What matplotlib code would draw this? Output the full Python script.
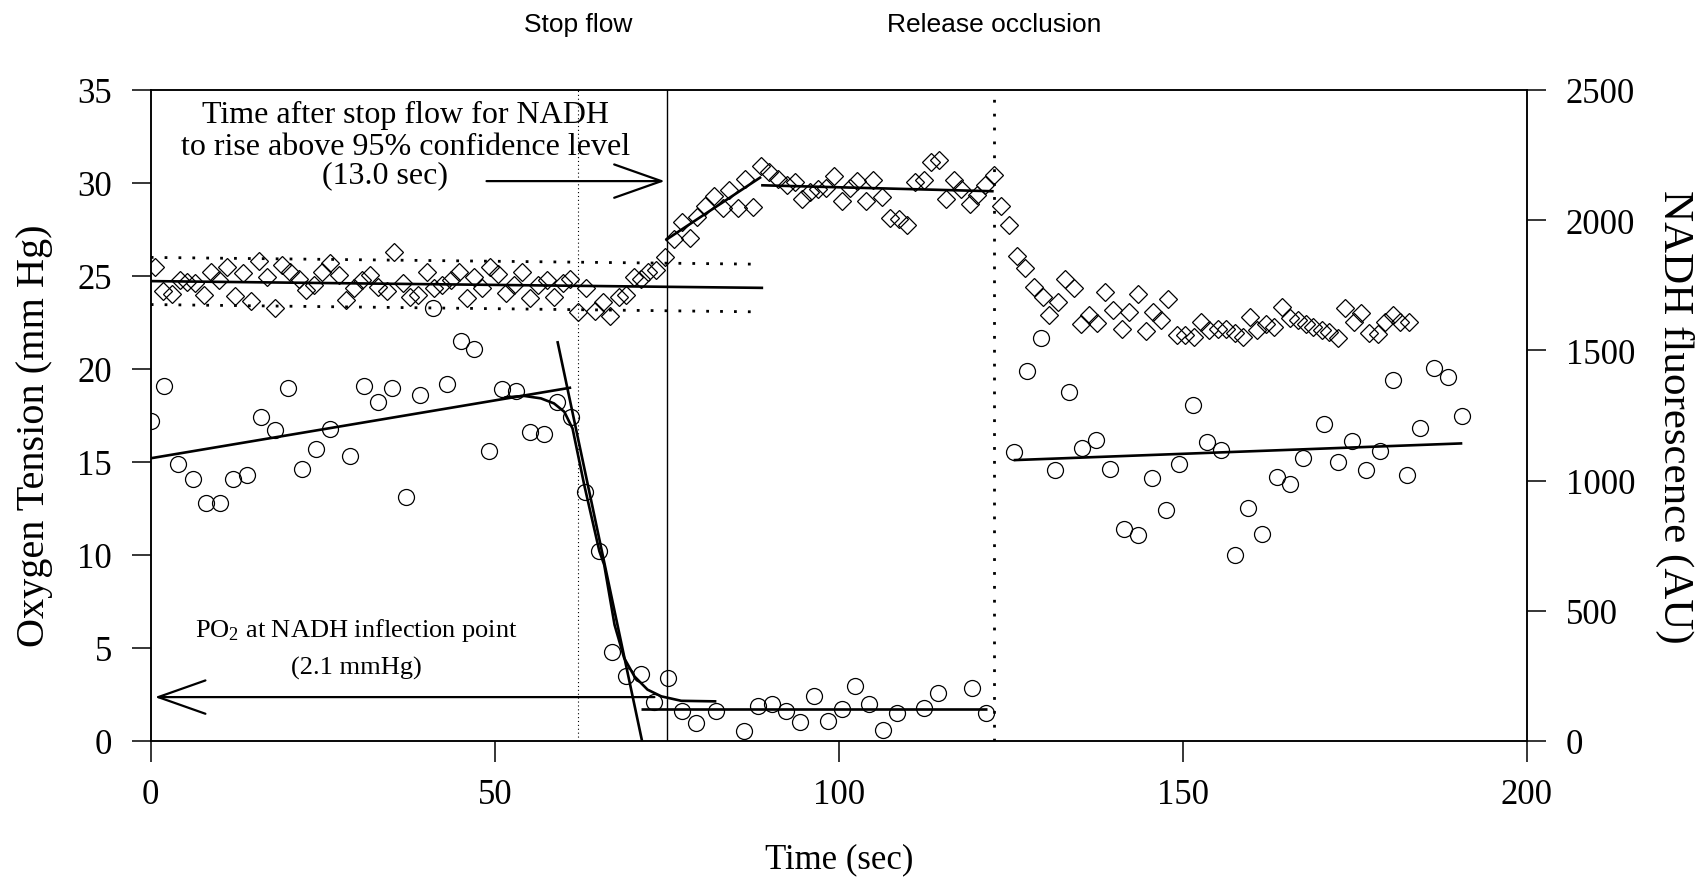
import matplotlib.pyplot as plt
import matplotlib.transforms as mtransforms

# ----------------------------
# Data
# ----------------------------
# oxygen tension (circles), mm Hg
o2_time = [0.0, 2.0, 4.0, 6.1, 8.1, 10.1, 12.0, 14.0, 16.0, 18.0, 20.0, 22.0, 24.0, 26.0,
           29.0, 31.0, 33.0, 35.0, 37.1, 39.1, 41.0, 43.1, 45.1, 47.0, 49.1, 51.1, 53.1,
           55.1, 57.1, 59.1, 61.1, 63.1, 65.2, 67.1, 69.1, 71.2, 73.2, 75.2, 77.2, 79.2,
           82.2, 86.2, 88.3, 90.3, 92.3, 94.3, 96.4, 98.4, 100.4, 102.3, 104.4, 106.4,
           108.4, 112.4, 114.4, 119.4, 121.4,
           125.4, 127.3, 129.4, 131.4, 133.4, 135.4, 137.4, 139.4, 141.5, 143.5, 145.5,
           147.5, 149.4, 151.4, 153.5, 155.5, 157.5, 159.5, 161.5, 163.6, 165.6, 167.5,
           170.5, 172.5, 174.6, 176.6, 178.6, 180.5, 182.5, 184.5, 186.5, 188.5, 190.5]
o2_vals = [17.2, 19.1, 14.9, 14.1, 12.8, 12.8, 14.1, 14.3, 17.4, 16.7, 19.0, 14.6, 15.7, 16.8,
           15.3, 19.1, 18.2, 19.0, 13.1, 18.6, 23.3, 19.2, 21.5, 21.1, 15.6, 18.9, 18.8,
           16.6, 16.5, 18.2, 17.4, 13.4, 10.2, 4.8, 3.5, 3.6, 2.1, 3.4, 1.6, 0.95,
           1.6, 0.55, 1.9, 2.0, 1.6, 1.0, 2.4, 1.1, 1.7, 2.95, 2.0, 0.57,
           1.5, 1.8, 2.6, 2.85, 1.5,
           15.56, 19.89, 21.68, 14.57, 18.76, 15.74, 16.17, 14.63, 11.39, 11.08, 14.12,
           12.44, 14.88, 18.06, 16.09, 15.65, 10.0, 12.55, 11.15, 14.18, 13.8, 15.23,
           17.02, 15.02, 16.13, 14.57, 15.59, 19.41, 14.3, 16.85, 20.07, 19.59, 17.45]

# NADH fluorescence (diamonds), AU
nadh_time = [0.6, 1.8, 3.1, 4.2, 5.2, 6.4, 7.7, 8.7, 9.9, 11.1, 12.3, 13.4, 14.6, 15.7, 16.9,
             18.0, 19.1, 20.2, 21.5, 22.6, 23.7, 24.9, 26.1, 27.3, 28.4, 29.5, 30.7, 31.9,
             33.1, 34.4, 35.3, 36.6, 37.7, 38.9, 40.1, 41.2, 42.4, 43.6, 44.8, 45.9, 47.0,
             48.2, 49.3, 50.5, 51.7, 52.8, 54.0, 55.1, 56.3, 57.6, 58.6,
             59.9, 61.0, 62.1, 63.3, 64.5, 65.7, 66.8, 68.0, 69.1, 70.2, 71.3, 72.3, 73.4,
             74.8, 76.0, 77.2, 78.3, 79.4, 80.6, 81.9, 83.2, 84.1, 85.3, 86.3, 87.5, 88.7,
             89.9, 91.1, 92.4, 93.6, 94.6, 95.8, 97.0, 98.2, 99.3, 100.4, 101.6, 102.7,
             103.9, 105.0, 106.2, 107.4, 108.7, 109.9, 111.0, 112.3, 113.4, 114.6, 115.5,
             116.7, 117.8, 119.0, 120.1, 121.3, 122.5,
             123.6, 124.7, 125.9, 127.0, 128.3, 129.6, 130.6, 131.8, 132.9, 134.2, 135.2,
             136.4, 137.5, 138.7, 139.9, 141.1, 142.2, 143.4, 144.6, 145.6, 146.8, 147.9,
             149.1, 150.3, 151.6, 152.6, 153.8, 155.1, 156.3, 157.5, 158.7, 159.7, 160.8,
             162.1, 163.2, 164.4, 165.5, 166.7, 167.9, 168.9, 170.2, 171.2, 172.5, 173.6,
             174.8, 175.9, 177.1, 178.3, 179.3, 180.5, 181.6, 182.9]
nadh_vals = [1821, 1727, 1718, 1770, 1763, 1757, 1712, 1802, 1770, 1821, 1710, 1798, 1689, 1842,
             1783, 1661, 1827, 1802, 1776, 1731, 1750, 1802, 1837, 1789, 1693, 1738, 1770,
             1789, 1744, 1727, 1876, 1757, 1706, 1712, 1802, 1738, 1750, 1770, 1802, 1702,
             1783, 1738, 1821, 1795, 1721, 1750, 1802, 1702, 1750, 1770, 1706,
             1757, 1776, 1648, 1738, 1651, 1687, 1633, 1706, 1712, 1783, 1776, 1802, 1808,
             1859, 1927, 1994, 1930, 2013, 2055, 2093, 2047, 2115, 2045, 2157, 2051, 2208,
             2185, 2160, 2134, 2147, 2083, 2109, 2121, 2124, 2170, 2073, 2124, 2149,
             2073, 2153, 2089, 2009, 2006, 1981, 2147, 2153, 2224, 2230, 2083,
             2153, 2121, 2064, 2096, 2134, 2172,
             2055, 1983, 1863, 1817, 1744, 1706, 1635, 1684, 1776, 1738, 1603,
             1635, 1607, 1725, 1655, 1584, 1648, 1718, 1574, 1648, 1616, 1699,
             1559, 1559, 1552, 1610, 1578, 1584, 1584, 1565, 1552, 1629, 1578,
             1603, 1591, 1667, 1625, 1616, 1603, 1591, 1578, 1569, 1546, 1664,
             1610, 1642, 1565, 1561, 1610, 1635, 1610, 1610]

# fitted lines (end points)
o2_pre_t, o2_pre = [0, 61.1], [15.2, 19.0]
o2_drop_t, o2_drop = [59.1, 71.4], [21.5, 0.0]
o2_low_t, o2_low = [71.2, 121.5], [1.73, 1.73]
o2_post_t, o2_post = [125.4, 190.6], [15.1, 16.0]
# smooth curve through the fall of PO2
o2_curve_t = [51.4, 54.3, 56.7, 58.6, 60.1, 61.3, 63.0, 65.2, 65.9, 67.4, 68.8, 70.3,
              72.2, 74.2, 77.1, 82.2]
o2_curve = [18.47, 18.55, 18.42, 18.15, 17.7, 16.8, 13.76, 10.2, 9.47, 6.25, 4.46, 3.47,
            2.76, 2.4, 2.16, 2.13]

nadh_base_t, nadh_base = [0, 89.0], [1766, 1740]
nadh_upper_t, nadh_upper = [0, 88.0], [1857, 1831]
nadh_lower_t, nadh_lower = [0, 88.0], [1676, 1648]
nadh_rise_t, nadh_rise = [74.8, 88.7], [1923, 2166]
nadh_plat_t, nadh_plat = [88.7, 122.5], [2134, 2111]

stop_flow_t = 62.1
nadh_up_t = 75.0
release_t = 122.5

plt.rcParams['font.family'] = ['Liberation Serif', 'DejaVu Serif']
plt.rcParams['mathtext.fontset'] = 'custom'
plt.rcParams['mathtext.rm'] = 'Liberation Serif'
plt.rcParams['mathtext.default'] = 'rm'

fig = plt.figure(figsize=(17.05, 8.78), dpi=100)
ax = fig.add_axes([0.0884, 0.1549, 0.8072, 0.7415])
ax2 = ax.twinx()

# ----------------------------
# Oxygen tension
# ----------------------------
ax.plot(o2_time, o2_vals, 'o', ms=11.5, mfc='none', mec='black', mew=0.9, ls='none')
for xs, ys in [(o2_pre_t, o2_pre), (o2_drop_t, o2_drop), (o2_low_t, o2_low),
               (o2_post_t, o2_post), (o2_curve_t, o2_curve)]:
    ax.plot(xs, ys, color='black', lw=1.9, solid_capstyle='butt')

ax.axvline(stop_flow_t, color='black', lw=0.8, ls=(0, (1, 2.5)))
ax.axvline(nadh_up_t, color='black', lw=1.0)
ax.axvline(release_t, color='black', lw=2.0, ls=(0, (1, 4)))

# ----------------------------
# NADH fluorescence
# ----------------------------
ax2.plot(nadh_time, nadh_vals, 'D', ms=8.8, mfc='none', mec='black', mew=0.9, ls='none')
for xs, ys in [(nadh_base_t, nadh_base), (nadh_rise_t, nadh_rise), (nadh_plat_t, nadh_plat)]:
    ax2.plot(xs, ys, color='black', lw=1.9, solid_capstyle='butt')
for xs, ys in [(nadh_upper_t, nadh_upper), (nadh_lower_t, nadh_lower)]:
    ax2.plot(xs, ys, color='black', lw=2.0, ls=(0, (1, 4)))

# ----------------------------
# Annotations
# ----------------------------
arrow = dict(arrowstyle='->,head_length=3.4,head_width=1.2', lw=1.6, color='black',
             shrinkA=0, shrinkB=0, mutation_scale=10)
ax.annotate('', xy=(74.7, 30.1), xytext=(48.8, 30.1), arrowprops=arrow)
ax.annotate('', xy=(0.6, 2.36), xytext=(73.2, 2.36), arrowprops=arrow)

ax.text(37.0, 33.28, 'Time after stop flow for NADH', fontsize=23, ha='center', va='baseline')
ax.text(37.0, 31.58, 'to rise above 95% confidence level', fontsize=23, ha='center', va='baseline')
ax.text(34.0, 30.02, '(13.0 sec)', fontsize=23, ha='center', va='baseline')

ax.text(29.9, 5.62, r'PO$_2$ at NADH inflection point', fontsize=19, ha='center', va='baseline')
ax.text(29.9, 3.65, '(2.1 mmHg)', fontsize=19, ha='center', va='baseline')

trans = mtransforms.blended_transform_factory(ax.transData, fig.transFigure)
ax.text(stop_flow_t, 0.9715, 'Stop flow', transform=trans, fontsize=19,
        family='Liberation Sans', ha='center', va='center')
ax.text(release_t, 0.9715, 'Release occlusion', transform=trans, fontsize=19,
        family='Liberation Sans', ha='center', va='center')

# ----------------------------
# Axes
# ----------------------------
ax.set_xlim(0, 200)
ax.set_ylim(0, 35)
ax2.set_ylim(0, 2500)
ax.set_xticks([0, 50, 100, 150, 200])
ax.set_yticks(range(0, 36, 5))
ax2.set_yticks(range(0, 2501, 500))

ax.tick_params(axis='x', direction='out', length=15, width=1.1, labelsize=25, pad=12)
ax.tick_params(axis='y', direction='out', length=14, width=1.1, labelsize=25, pad=14)
ax2.tick_params(axis='y', direction='out', length=14, width=1.1, labelsize=25, pad=14)
for a in (ax, ax2):
    for s in a.spines.values():
        s.set_linewidth(1.1)

ax.set_xlabel('Time (sec)', fontsize=25)
ax.xaxis.set_label_coords(0.5, -0.155)
ax.set_ylabel('Oxygen Tension (mm Hg)', fontsize=29, rotation=90, va='center', ha='center')
ax.yaxis.set_label_coords(-0.0848, 0.47)
ax2.set_ylabel('NADH fluorescence (AU)', fontsize=31, rotation=-90, va='center', ha='center')
ax2.yaxis.set_label_coords(1.1075, 0.5)

fig.savefig('out.png', dpi=100)
